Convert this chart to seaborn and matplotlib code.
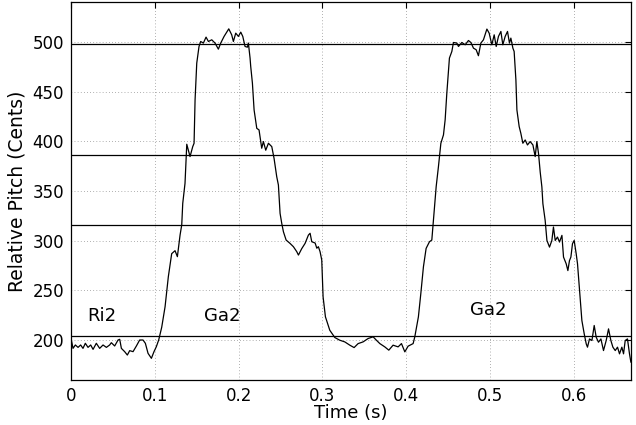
import matplotlib
matplotlib.use("Agg")
import matplotlib.pyplot as plt
import seaborn as sns
import pandas as pd

# Pitch contour of the phrase (time in seconds, pitch in cents relative to tonic)
time_s = [
    0.0004, 0.0024, 0.0052, 0.0084, 0.0115, 0.0143, 0.0171, 0.0203, 0.0235, 0.0263,
    0.0302, 0.0342, 0.0382, 0.0422, 0.0461, 0.0481, 0.0521, 0.0561, 0.0581, 0.0601,
    0.0640, 0.0672, 0.0700, 0.0740, 0.0780, 0.0819, 0.0859, 0.0887, 0.0919, 0.0959,
    0.0990, 0.1018, 0.1046, 0.1082, 0.1122, 0.1161, 0.1201, 0.1241, 0.1269, 0.1301,
    0.1321, 0.1333, 0.1360, 0.1381, 0.1420, 0.1452, 0.1468, 0.1480, 0.1500, 0.1527,
    0.1547, 0.1579, 0.1611, 0.1639, 0.1679, 0.1718, 0.1758, 0.1786, 0.1826, 0.1882,
    0.1917, 0.1937, 0.1965, 0.1997, 0.2025, 0.2049, 0.2076, 0.2104, 0.2116, 0.2136,
    0.2144, 0.2164, 0.2184, 0.2216, 0.2243, 0.2275, 0.2295, 0.2323, 0.2355, 0.2395,
    0.2422, 0.2454, 0.2474, 0.2494, 0.2514, 0.2534, 0.2566, 0.2613, 0.2653, 0.2693,
    0.2713, 0.2752, 0.2792, 0.2832, 0.2852, 0.2872, 0.2912, 0.2932, 0.2951, 0.2971,
    0.2991, 0.3007, 0.3035, 0.3087, 0.3147, 0.3206, 0.3266, 0.3326, 0.3377, 0.3425,
    0.3484, 0.3544, 0.3604, 0.3643, 0.3684, 0.3743, 0.3791, 0.3842, 0.3902, 0.3942,
    0.3982, 0.4021, 0.4081, 0.4101, 0.4144, 0.4173, 0.4204, 0.4236, 0.4276, 0.4304,
    0.4323, 0.4356, 0.4383, 0.4412, 0.4443, 0.4463, 0.4483, 0.4514, 0.4543, 0.4562,
    0.4603, 0.4622, 0.4662, 0.4702, 0.4741, 0.4770, 0.4801, 0.4833, 0.4860, 0.4889,
    0.4920, 0.4961, 0.4988, 0.5020, 0.5048, 0.5072, 0.5099, 0.5128, 0.5151, 0.5179,
    0.5207, 0.5230, 0.5247, 0.5271, 0.5286, 0.5307, 0.5319, 0.5346, 0.5366, 0.5390,
    0.5418, 0.5445, 0.5477, 0.5510, 0.5537, 0.5557, 0.5577, 0.5597, 0.5617, 0.5629,
    0.5656, 0.5677, 0.5708, 0.5736, 0.5755, 0.5776, 0.5803, 0.5827, 0.5856, 0.5875,
    0.5907, 0.5927, 0.5946, 0.5963, 0.5982, 0.6002, 0.6026, 0.6042, 0.6066, 0.6094,
    0.6122, 0.6146, 0.6161, 0.6185, 0.6214, 0.6241, 0.6265, 0.6292, 0.6321, 0.6352,
    0.6384, 0.6412, 0.6440, 0.6464, 0.6492, 0.6519, 0.6543, 0.6571, 0.6591, 0.6611,
    0.6638, 0.6662, 0.6679,
]
pitch_cents = [
    200.2, 191.8, 195.2, 192.8, 195.2, 191.8, 196.9, 192.8, 195.2, 190.8,
    196.9, 191.8, 195.2, 192.8, 195.2, 197.5, 194.2, 200.2, 200.9, 191.8,
    188.5, 185.1, 189.5, 188.5, 194.2, 200.2, 200.2, 196.9, 186.8, 181.8,
    188.5, 193.5, 200.2, 213.0, 233.6, 263.8, 287.0, 290.0, 284.0, 305.7,
    316.0, 337.6, 357.7, 397.0, 384.6, 394.6, 398.0, 441.6, 478.5, 495.3,
    500.3, 498.7, 504.7, 500.3, 502.0, 498.7, 492.6, 498.7, 505.4, 513.0,
    507.0, 500.3, 508.7, 505.4, 509.7, 505.4, 495.3, 494.6, 498.7, 483.6,
    475.0, 458.4, 431.5, 413.0, 411.4, 393.0, 399.7, 391.0, 398.0, 394.6,
    382.9, 364.4, 356.0, 327.5, 317.4, 309.0, 300.7, 297.3, 294.0, 289.0,
    285.6, 292.0, 297.3, 305.7, 307.5, 299.0, 297.7, 292.5, 294.0, 289.0,
    280.7, 243.6, 223.5, 210.0, 202.7, 200.0, 198.3, 195.0, 192.6, 196.6,
    198.3, 201.7, 203.4, 200.0, 196.6, 193.3, 190.0, 195.0, 193.3, 196.6,
    188.3, 194.0, 196.6, 203.4, 223.5, 247.0, 273.8, 292.3, 299.0, 300.7,
    320.8, 354.4, 374.5, 398.0, 406.4, 421.5, 448.3, 483.6, 490.3, 499.3,
    498.7, 495.3, 499.3, 497.0, 501.3, 499.3, 493.6, 492.0, 486.0, 498.7,
    502.0, 512.8, 508.7, 497.0, 507.0, 495.3, 505.4, 510.4, 497.0, 505.4,
    510.4, 498.7, 503.7, 493.6, 490.3, 461.7, 431.5, 414.8, 408.0, 398.0,
    401.3, 396.3, 399.7, 396.3, 384.6, 399.7, 387.6, 369.0, 354.0, 337.2,
    320.5, 300.3, 293.6, 300.3, 313.8, 300.3, 303.7, 298.7, 305.4, 283.6,
    276.8, 270.0, 280.0, 283.6, 297.0, 300.3, 287.0, 276.8, 250.0, 219.8,
    206.4, 196.3, 193.0, 201.3, 199.7, 214.8, 203.0, 198.0, 201.3, 189.6,
    199.7, 211.4, 199.7, 193.0, 189.6, 193.0, 186.3, 193.0, 186.3, 199.7,
    201.3, 186.3, 177.8,
]

# Just-intonation reference positions (cents) drawn as horizontal lines
swara_cents = [204, 316, 386, 498]

# Note annotations
note_labels = ["Ri2", "Ga2", "Ga2"]
note_x = [0.037, 0.180, 0.498]
note_y = [224, 224, 230]

x_ticks = [0, 0.1, 0.2, 0.3, 0.4, 0.5, 0.6]
x_tick_labels = ["0", "0.1", "0.2", "0.3", "0.4", "0.5", "0.6"]
y_ticks = [200, 250, 300, 350, 400, 450, 500]

sns.set_theme(style="white")
plt.rcParams["font.family"] = ["DejaVu Sans"]

df = pd.DataFrame({"Time (s)": time_s, "Relative Pitch (Cents)": pitch_cents})

fig = plt.figure(figsize=(6.36, 4.25), dpi=100)
ax = fig.add_axes([71 / 636, 45 / 425, 560 / 636, 378 / 425])

for c in swara_cents:
    ax.axhline(c, color="black", lw=0.9, zorder=2)

sns.lineplot(data=df, x="Time (s)", y="Relative Pitch (Cents)", ax=ax,
             color="black", lw=0.9, sort=False, estimator=None, zorder=3)

for lab, x, y in zip(note_labels, note_x, note_y):
    ax.text(x, y, lab, ha="center", va="center", fontsize=13, color="black")

ax.set_xlim(0, 0.668)
ax.set_ylim(160, 540)
ax.set_xticks(x_ticks)
ax.set_xticklabels(x_tick_labels)
ax.set_yticks(y_ticks)

ax.grid(True, color="black", linestyle=(0, (1, 3.5)), lw=0.5, alpha=0.6)
ax.set_axisbelow(True)
ax.tick_params(direction="in", length=4, width=0.8, top=True, right=True,
               labelsize=12, colors="black", labelcolor="black", pad=5)
for s in ax.spines.values():
    s.set_color("black")
    s.set_linewidth(0.9)

ax.set_xlabel("Time (s)", fontsize=13, labelpad=-1, color="black")
ax.set_ylabel("Relative Pitch (Cents)", fontsize=13.5, labelpad=4, color="black")

fig.savefig("out.png", dpi=100)
